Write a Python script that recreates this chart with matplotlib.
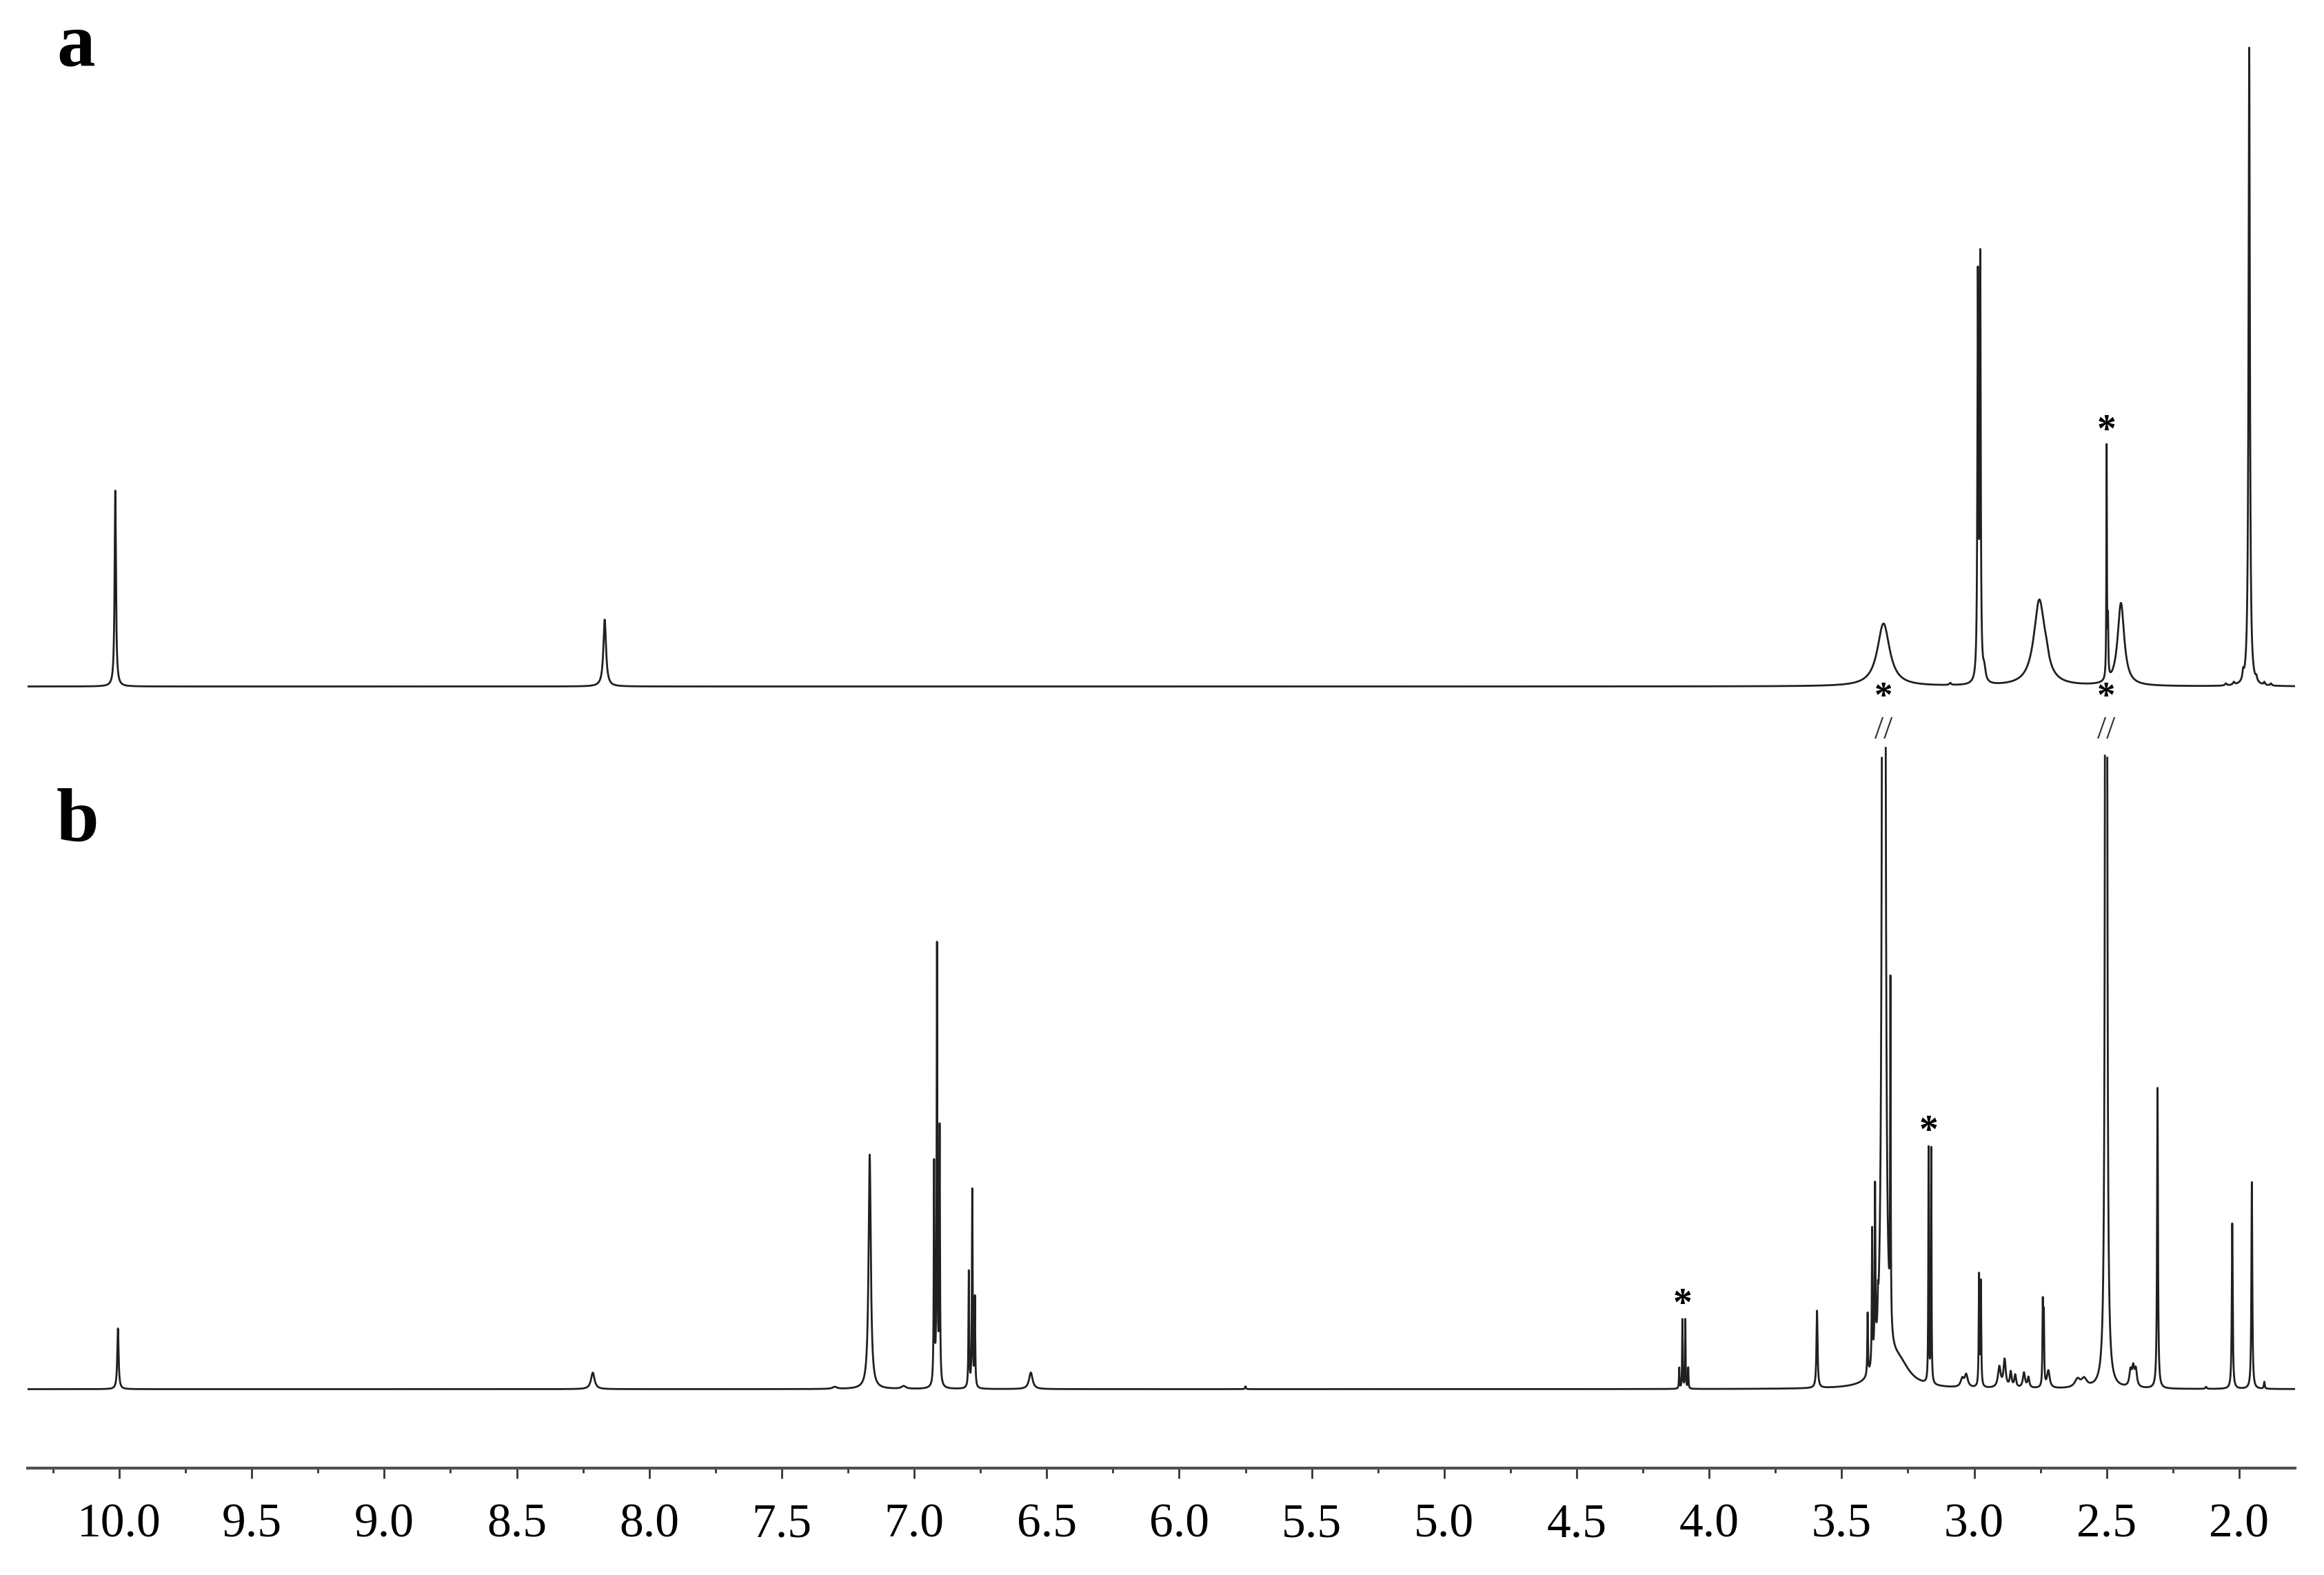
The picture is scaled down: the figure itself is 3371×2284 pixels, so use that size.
import numpy as np
import matplotlib.pyplot as plt
from matplotlib.ticker import MultipleLocator, FormatStrFormatter

# peak lists: shift (ppm), height, half width (ppm)
a_shift = [10.015, 8.168, 3.342, 3.09, 2.986, 2.977, 2.962, 2.754, 2.728,
           2.500, 2.495, 2.446, 2.05, 2.02, 1.985, 1.962, 1.935, 1.905, 1.88]
a_height = [284, 97, 91, 3, 575, 600, 18, 124, 12,
            335, 80, 120, 3, 4, 12, 926, 6, 4, 3]
a_width = [0.003, 0.006, 0.028, 0.004, 0.0021, 0.0021, 0.006, 0.025, 0.01,
           0.0012, 0.0015, 0.015, 0.004, 0.004, 0.003, 0.003, 0.003, 0.003, 0.003]

b_shift = [10.005, 8.213, 7.30, 7.168, 7.04, 6.925, 6.914, 6.904,
           6.794, 6.781, 6.771, 6.56, 5.75,
           4.113, 4.101, 4.090, 4.079, 3.593,
           3.402, 3.385, 3.374, 3.363, 3.341, 3.316, 3.285,
           3.172, 3.162, 3.045, 3.03, 2.9815, 2.9745,
           2.905, 2.885, 2.862, 2.845, 2.812, 2.795,
           2.741, 2.737, 2.72, 2.61, 2.585, 2.502,
           2.41, 2.40, 2.39, 2.308, 2.125, 2.026, 1.952, 1.905]
b_height = [88, 24, 3, 340, 4, 320, 635, 370,
            168, 286, 129, 24, 4,
            30, 100, 100, 30, 112,
            90, 197, 242, 38, 5e4, 495, 35,
            340, 340, 12, 18, 160, 150,
            30, 40, 22, 18, 22, 15,
            118, 100, 25, 12, 12, 2e4,
            22, 26, 24, 436, 3, 240, 300, 10]
b_width = [0.003, 0.008, 0.01, 0.005, 0.01, 0.0015, 0.0015, 0.0015,
           0.0015, 0.0015, 0.0015, 0.008, 0.002,
           0.0012, 0.0012, 0.0012, 0.0012, 0.0025,
           0.0015, 0.0015, 0.0015, 0.0015, 0.001, 0.0012, 0.05,
           0.0012, 0.0012, 0.007, 0.007, 0.0015, 0.0015,
           0.006, 0.005, 0.004, 0.004, 0.005, 0.004,
           0.0015, 0.0015, 0.006, 0.012, 0.012, 0.001,
           0.005, 0.005, 0.005, 0.002, 0.003, 0.002, 0.002, 0.002]

# starred (solvent) peaks
a_stars = [2.500]
b_stars = [4.101, 3.172, 3.341, 2.502]
b_broken = [3.341, 2.502]
b_clip = 930

tick_major = 0.5
tick_minor = 0.25


def spectrum(x, shifts, heights, widths):
    y = np.zeros_like(x)
    for s, h, w in zip(shifts, heights, widths):
        y += h * w**2 / ((x - s)**2 + w**2)
    return y


ppm = np.linspace(10.346, 1.789, 90000)
spec_a = spectrum(ppm, a_shift, a_height, a_width)
spec_b = spectrum(ppm, b_shift, b_height, b_width)
spec_b[spec_b > b_clip] = np.nan

off_a = 1133
off_b = 114

fig = plt.figure(figsize=(33.71, 22.84), dpi=100)
ax = fig.add_axes([40 / 3371, 155.5 / 2284, 3289 / 3371, 2128.5 / 2284])
ax.plot(ppm, spec_a + off_a, color='#202020', lw=2.0)
ax.plot(ppm, spec_b + off_b, color='#202020', lw=2.0)
ax.set_xlim(10.346, 1.789)
ax.set_ylim(0, 2128.5)

for s in ['top', 'left', 'right']:
    ax.spines[s].set_visible(False)
ax.spines['bottom'].set_color('#505050')
ax.spines['bottom'].set_linewidth(3)
ax.set_yticks([])
ax.xaxis.set_major_locator(MultipleLocator(tick_major))
ax.xaxis.set_minor_locator(MultipleLocator(tick_minor))
ax.xaxis.set_major_formatter(FormatStrFormatter('%.1f'))
ax.tick_params(axis='x', which='major', length=11, width=2, color='#333333',
               pad=26, labelsize=50)
ax.tick_params(axis='x', which='minor', length=5, width=2, color='#333333')
for lab in ax.get_xticklabels():
    lab.set_fontfamily('Liberation Serif')

# asterisks and break marks
star_font = dict(fontfamily='Liberation Serif', fontweight='bold', fontsize=40,
                 ha='center', va='center')
for s in a_stars:
    top = spectrum(np.array([s]), a_shift, a_height, a_width)[0]
    ax.text(s, off_a + top + 18, '*', **star_font)
for s in b_stars:
    top = spectrum(np.array([s]), b_shift, b_height, b_width)[0]
    if s in b_broken:
        ax.text(s, off_b + 978, '*', fontfamily='Liberation Serif',
                fontweight='bold', fontsize=38, ha='center', va='bottom')
        ax.text(s, off_b + 976, '//', fontfamily='Liberation Serif', fontsize=34,
                color='#333333', ha='center', va='top')
    else:
        ax.text(s, off_b + top + 20, '*', **star_font)

fig.text(110 / 3371, 1 - 67 / 2284, 'a', fontfamily='Liberation Serif',
         fontweight='bold', fontsize=80, ha='center', va='center')
fig.text(112 / 3371, 1 - 1193 / 2284, 'b', fontfamily='Liberation Serif',
         fontweight='bold', fontsize=80, ha='center', va='center')

fig.savefig('out.png', dpi=100, facecolor='white')
